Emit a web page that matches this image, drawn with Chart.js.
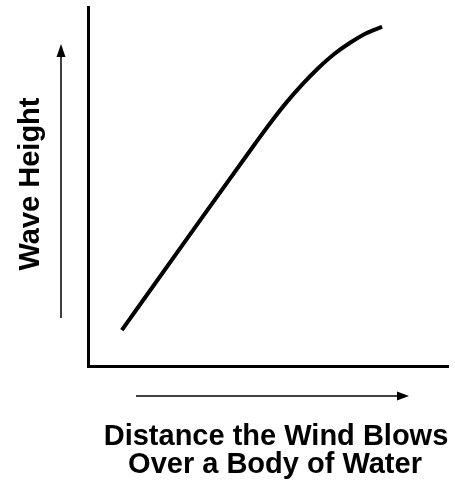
<!DOCTYPE html>
<html>
<head>
<meta charset="utf-8">
<script src="https://cdn.jsdelivr.net/npm/chart.js@4"></script>
<style>
  html, body { margin: 0; padding: 0; background: #fff; }
  #wrap { width: 455px; height: 483px; }
</style>
</head>
<body>
<div id="wrap"><canvas id="grafico" width="455" height="483"></canvas></div>
<script>
// curve (axis units 0..100)
const distancia = [9.4, 28.3, 46.4, 50.8, 55.2, 59.6, 64.0, 68.4, 72.9, 77.3, 81.7];
const altura = [10.0, 36.6, 61.9, 67.9, 73.5, 78.5, 83.0, 86.9, 90.1, 92.7, 94.5];
const tituloY = 'Wave Height';
const tituloX = ['Distance the Wind Blows', 'Over a Body of Water'];

const pontos = distancia.map((x, i) => ({ x: x, y: altura[i] }));

// arrows + axis titles
const rotulos = {
  id: 'rotulos',
  afterDraw(chart) {
    const ctx = chart.ctx;
    ctx.save();
    ctx.strokeStyle = '#000';
    ctx.fillStyle = '#000';
    ctx.lineWidth = 1.5;

    // vertical arrow
    ctx.beginPath();
    ctx.moveTo(61, 318);
    ctx.lineTo(61, 55);
    ctx.stroke();
    ctx.beginPath();
    ctx.moveTo(61, 44);
    ctx.lineTo(56.5, 57);
    ctx.lineTo(65.5, 57);
    ctx.closePath();
    ctx.fill();

    // horizontal arrow
    ctx.beginPath();
    ctx.moveTo(136, 396);
    ctx.lineTo(398, 396);
    ctx.stroke();
    ctx.beginPath();
    ctx.moveTo(409, 396);
    ctx.lineTo(397, 391.5);
    ctx.lineTo(397, 400.5);
    ctx.closePath();
    ctx.fill();

    ctx.font = 'bold 29px "Liberation Sans", Arial, Helvetica, sans-serif';
    ctx.textAlign = 'center';
    ctx.textBaseline = 'middle';

    ctx.save();
    ctx.translate(31, 184);
    ctx.rotate(-Math.PI / 2);
    ctx.fillText(tituloY, 0, 0);
    ctx.restore();

    ctx.fillText(tituloX[0], 276, 437);
    ctx.fillText(tituloX[1], 275, 465);
    ctx.restore();
  }
};

new Chart(document.getElementById('grafico'), {
  type: 'line',
  data: {
    datasets: [{
      data: pontos,
      borderColor: '#000',
      borderWidth: 4,
      borderCapStyle: 'butt',
      pointRadius: 0,
      cubicInterpolationMode: 'monotone',
      fill: false
    }]
  },
  options: {
    responsive: false,
    animation: false,
    layout: { padding: { left: 88, right: 7, top: 7, bottom: 117 } },
    plugins: {
      legend: { display: false },
      tooltip: { enabled: false }
    },
    scales: {
      x: {
        type: 'linear',
        min: 0,
        max: 100,
        ticks: { display: false },
        grid: { display: false, drawTicks: false },
        border: { display: true, color: '#000', width: 3 }
      },
      y: {
        min: 0,
        max: 100,
        ticks: { display: false },
        grid: { display: false, drawTicks: false },
        border: { display: true, color: '#000', width: 3 }
      }
    }
  },
  plugins: [rotulos]
});
</script>
</body>
</html>
